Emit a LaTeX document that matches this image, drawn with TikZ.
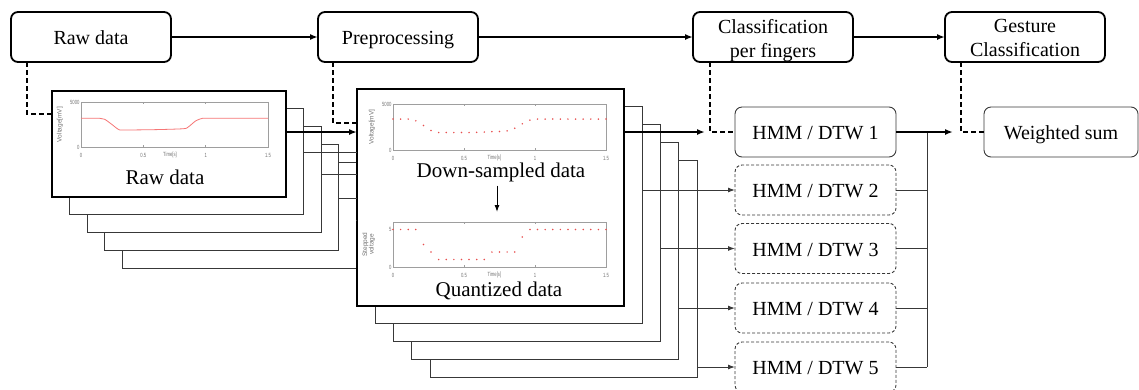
\documentclass[tikz,border=0pt]{standalone}
\usepackage{fontspec}
\setmainfont{Liberation Serif}
\setsansfont{Liberation Sans}
\usetikzlibrary{arrows.meta,calc}

\definecolor{axisgray}{gray}{0.62}
\definecolor{labelgray}{gray}{0.45}
\definecolor{sigred}{RGB}{232,78,78}
\definecolor{curvered}{RGB}{246,118,118}
\definecolor{stackgray}{gray}{0.22}

% axis box of a small signal plot with its tick labels
% #1 prefix, #2 left, #3 top, #4 right, #5 bottom, #6 y label, #7 upper tick text, #8 upper tick y
\newcommand{\plotframe}[8]{%
  \draw[axisline] (#2,#3) rectangle (#4,#5);
  \foreach \f in {0.3333,0.6667}{
    \draw[axisline] ({#2+\f*(#4-#2)},#3) -- ++(0,1.8);
    \draw[axisline] ({#2+\f*(#4-#2)},#5) -- ++(0,-1.8);
  }
  \node[ticklab,anchor=east] (#1ytop) at ({#2-1.5},#8) {#7};
  \node[ticklab,anchor=east] (#1ybot) at ({#2-1.5},#5) {0};
  \node[ticklab] (#1xa) at (#2,{#5+8.5}) {0};
  \node[ticklab] (#1xb) at ({#2+(#4-#2)/3},{#5+8.5}) {0.5};
  \node[ticklab] (#1xt) at ({#2+0.476*(#4-#2)},{#5+7.5}) {Time[s]};
  \node[ticklab] (#1xc) at ({#2+2*(#4-#2)/3},{#5+8.5}) {1};
  \node[ticklab] (#1xd) at (#4,{#5+8.5}) {1.5};
  \node[ylab,anchor=south,rotate=90] (#1ylab) at ({#2-18},{(#3+#5)/2}) {#6};
}

\begin{document}
\begin{tikzpicture}[x=1pt,y=-1pt,
  every node/.style={inner sep=0pt,outer sep=0pt},
  stage/.style={draw,line width=1.8pt,rounded corners=7pt,fill=white,
    minimum width=160pt,minimum height=50pt,font=\fontsize{20}{24}\selectfont,
    text height=14pt,text depth=0pt},
  stagebox/.style={draw,line width=1.8pt,rounded corners=7pt,fill=white,
    minimum width=160pt,minimum height=50pt},
  stagetext/.style={align=center,font=\fontsize{20}{24}\selectfont},
  panel/.style={draw,line width=2.4pt,fill=white},
  stack/.style={draw=stackgray,line width=1pt,fill=white},
  model/.style={draw=stackgray,line width=0.9pt,rounded corners=7pt,fill=white,
    minimum width=161pt,minimum height=50pt,font=\fontsize{20}{24}\selectfont,
    text height=15pt,text depth=0pt},
  modeldash/.style={model,dash pattern=on 3pt off 2pt},
  paneltext/.style={font=\fontsize{21}{24}\selectfont},
  flow/.style={line width=1.6pt,-{Latex[length=8pt,width=6pt]}},
  feed/.style={line width=1pt,draw=stackgray,-{Latex[length=7pt,width=5pt]}},
  link/.style={line width=1pt,draw=stackgray},
  hint/.style={line width=1.7pt,dash pattern=on 5pt off 3pt},
  axisline/.style={draw=axisgray,line width=0.6pt},
  ticklab/.style={text=labelgray,font=\sffamily\fontsize{6}{6}\selectfont,xscale=0.7},
  ylab/.style={text=labelgray,font=\sffamily\fontsize{6.5}{6.5}\selectfont,align=center},
  dot/.style={fill=sigred}
]
\useasboundingbox (0,0) rectangle (1139,389);

% processing stages
\node[stage] (raw) at (91,37) {Raw data};
\node[stage] (pre) at (398,37) {Preprocessing};
\node[stagebox] (cls) at (773,37) {};
\node[stagetext] (clsT) at (773,40.3) {Classification\\per fingers};
\node[stagebox] (ges) at (1025,37) {};
\node[stagetext] (gesT) at (1025,38.4) {Gesture\\Classification};

% per-finger classifiers and fusion
\node[model] (hmm1) at (815.5,132) {HMM / DTW 1};
\node[modeldash] (hmm2) at (815.5,190) {HMM / DTW 2};
\node[modeldash] (hmm3) at (815.5,248.5) {HMM / DTW 3};
\node[modeldash] (hmm4) at (815.5,308) {HMM / DTW 4};
\node[modeldash] (hmm5) at (815.5,367) {HMM / DTW 5};
\node[model,minimum width=154pt] (wsum) at (1061,132) {Weighted sum};

% raw signal sheets, one per finger
\foreach \k in {4,3,2,1}
  \node[stack,minimum width=234pt,minimum height=106pt] (rawS\k)
    at ({169+17.5*\k},{144+17.8*\k}) {};
\node[panel,minimum width=234pt,minimum height=106pt] (rawP) at (169,144) {};

\plotframe{rp}{81}{102}{268}{147}{Voltage[mV]}{5000}{102}
\begin{scope}[shift={(81,147)},x={(124.67pt,0pt)},y={(0pt,0.009pt)}]
  \draw[curvered,line width=0.8pt] plot[smooth,tension=0.45] coordinates
    {(0,3190) (0.15,3190) (0.19,3080) (0.25,2480) (0.3,1960) (0.34,1890)
     (0.6,1930) (0.82,2030) (0.86,2220) (0.92,2900) (0.97,3170) (1.02,3200) (1.5,3190)};
\end{scope}
\node[paneltext] (rawlab) at (165,177) {Raw data};

% preprocessed sheets, one per finger
\foreach \k in {4,3,2,1}
  \node[stack,minimum width=267pt,minimum height=217pt] (preS\k)
    at ({490.5+18.3*\k},{197.5+17.9*\k}) {};
\node[panel,minimum width=267pt,minimum height=217pt] (preP) at (490.5,197.5) {};

\plotframe{dp}{393}{104}{606}{150}{Voltage[mV]}{5000}{104}
\begin{scope}[shift={(393,150)},x={(142pt,0pt)},y={(0pt,0.0092pt)}]
  \foreach \v [count=\i from 0] in
    {3360,3360,3360,3175,2660,2120,1900,1900,1900,1900,1900,1920,1950,1990,2010,
     2080,2370,2850,3250,3360,3360,3360,3360,3360,3360,3360,3360,3360,3360}
    \fill[dot] ({\i*1.5/28},\v) circle (0.85pt);
\end{scope}
\node[paneltext] (dslab) at (501,172) {Down-sampled data};

\plotframe{qp}{393}{222}{606}{267}{Stepped\\voltage}{5}{229.5}
\begin{scope}[shift={(393,267)},x={(142pt,0pt)},y={(0pt,7.5pt)}]
  \foreach \v [count=\i from 0] in
    {5,5,5,5,3,2,1,1,1,1,1,1,1,2,2,2,2,4,5,5,5,5,5,5,5,5,5,5,5}
    \fill[dot] ({\i*1.5/28},\v) circle (0.85pt);
\end{scope}
\node[paneltext] (qlab) at (499,291) {Quantized data};
\coordinate (qtip) at (497,212);
\draw[line width=1pt,-{Latex[length=7pt,width=5pt]},shorten <=4pt] (qtip |- dslab.south) -- (qtip);

% free ends of the main arrows
\coordinate (ptip) at (705,132);
\coordinate (bus) at (927,132);
\coordinate (wtip) at (953,132);

% pipeline arrows
\draw[flow] (raw) -- (pre);
\draw[flow] (pre) -- (cls);
\draw[flow] (cls) -- (ges);

% stage-to-content dashed links
\draw[hint] ([xshift=16pt]raw.south west) |- (rawP.west |- 0,114);
\draw[hint] ([xshift=15pt]pre.south west) |- (preP.west |- 0,123);
\draw[hint] ([xshift=17pt]cls.south west) |- (hmm1.west);
\draw[hint] ([xshift=16pt]ges.south west) |- (wsum.west);

% raw sheets into preprocessing
\draw[flow] (rawP.east |- 0,132) -- (preP.west |- 0,132);
\draw[link] (rawS1.east |- 0,152) -- (preP.west |- 0,152);
\draw[link] (rawS2.east |- 0,174) -- (preP.west |- 0,174);
\draw[link] (rawS3.east |- 0,198) -- (preP.west |- 0,198);
\draw[link] (rawS4.east |- 0,220) -- (preP.west |- 0,220);

% preprocessed sheets into the classifiers
\draw[flow] (preP.east |- hmm1.west) -- (ptip);
\draw[feed] (preS1.east |- hmm2.west) -- (hmm2.west);
\draw[feed] (preS2.east |- hmm3.west) -- (hmm3.west);
\draw[feed] (preS3.east |- hmm4.west) -- (hmm4.west);
\draw[feed] (preS4.east |- hmm5.west) -- (hmm5.west);

% classifier outputs gathered into the weighted sum
\draw[link] (bus) -- (bus |- hmm5.east);
\foreach \m in {2,...,5}
  \draw[link] (hmm\m.east) -- (hmm\m.east -| bus);
\draw[flow] (hmm1.east) -- (wtip);
\end{tikzpicture}
\end{document}
